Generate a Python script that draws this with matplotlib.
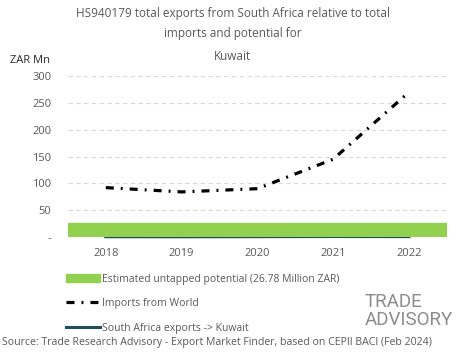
import matplotlib
matplotlib.use("Agg")
from matplotlib import pyplot as plt
from matplotlib.patches import Patch
from matplotlib.lines import Line2D
import numpy as np

years = ["2018", "2019", "2020", "2021", "2022"]
imports_world = [92, 84, 90, 145, 270]
sa_exports = [0.4, 0.3, 0.5, 0.8, 0.6]
untapped = 26.78
yticks = [0, 50, 100, 150, 200, 250, 300]
ytick_labels = ["-", "50", "100", "150", "200", "250", "300"]

plt.rcParams['font.family'] = ['Open Sans', 'DejaVu Sans']
grey = "#595959"
dash = (2.5, 2.2, 0.6, 2.2)

fig = plt.figure(figsize=(4.65, 3.59), dpi=100)
ax = fig.add_axes([0.146, 0.340, 0.815, 0.448])

x = np.arange(len(years))
ax.axhspan(0, untapped, color="#92d050", zorder=2)
ax.plot(x, sa_exports, color="#1f4e5f", lw=2.2, zorder=1, clip_on=False)
ax.plot(x, imports_world, color="black", lw=2.3, dashes=dash, zorder=3)

ax.set_xlim(-0.5, 4.5)
ax.set_ylim(0, 300)
ax.set_xticks(x)
ax.set_xticklabels(years)
ax.set_yticks(yticks)
ax.set_yticklabels(ytick_labels)
ax.grid(axis="y", color="#d9d9d9", ls=(0, (4, 3)), lw=0.8, zorder=0)
for s in ax.spines.values():
    s.set_visible(False)
ax.tick_params(length=0, labelsize=8, colors=grey, pad=8)
ax.tick_params(axis="y", pad=12)

fig.text(0.5, 0.963, "HS940179 total exports from South Africa relative to total",
         ha="center", va="center", fontsize=8.5, color=grey)
fig.text(0.5, 0.906, "imports and potential for", ha="center", va="center", fontsize=8.5, color=grey)
fig.text(0.5, 0.843, "Kuwait", ha="center", va="center", fontsize=8.5, color=grey)
fig.text(0.022, 0.832, "ZAR Mn", ha="left", va="center", fontsize=8, color="#262626")

handles = [Patch(color="#92d050"),
           Line2D([], [], color="black", lw=2.3, dashes=dash),
           Line2D([], [], color="#1f4e5f", lw=2.2)]
labels = ["Estimated untapped potential (26.78 Million ZAR)", "Imports from World",
          "South Africa exports -> Kuwait"]
leg = fig.legend(handles, labels, loc="upper left", bbox_to_anchor=(0.142, 0.238),
                 frameon=False, fontsize=7.5, labelspacing=1.3, handlelength=3.3,
                 handletextpad=0.2, borderaxespad=0, borderpad=0)
for t in leg.get_texts():
    t.set_color(grey)

logo_font = ['Roboto', 'DejaVu Sans']
fig.text(0.785, 0.160, "TRADE", ha="left", va="center", fontsize=13.5, color="#8c8c8c",
         family=logo_font)
fig.text(0.785, 0.108, "ADVISORY", ha="left", va="center", fontsize=13.5, color="#8c8c8c",
         family=logo_font)

fig.text(0.005, 0.045, "Source: Trade Research Advisory - Export Market Finder, based on CEPII BACI (Feb 2024)",
         ha="left", va="center", fontsize=7.6, color=grey)

fig.savefig("out.png", dpi=100)
